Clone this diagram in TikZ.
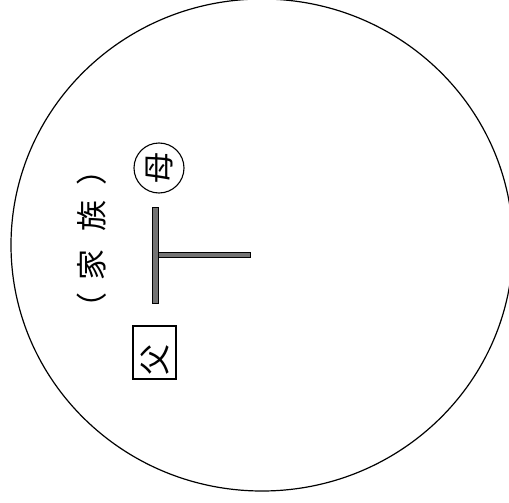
\documentclass[tikz,border=0pt]{standalone}
\usepackage{fontspec}
\newfontfamily\cjk{Noto Sans CJK JP}
\usetikzlibrary{shapes.geometric}
\begin{document}
\begin{tikzpicture}[x=1pt,y=-1pt,
  lbl/.style={font=\cjk\fontsize{31pt}{31pt}\selectfont, inner sep=0pt, rotate=90},
  bar/.style={fill=black!55, draw=black, line width=0.9pt}]
\useasboundingbox (0,0) rectangle (509,503);
\node[draw, ellipse, line width=1.2pt, minimum width=502pt, minimum height=492pt, inner sep=0pt] (frame) at (262,245) {};
% mother
\node[draw, circle, line width=1.1pt, minimum size=50pt, inner sep=0pt] (mo) at (159,168) {};
\node[lbl] (motxt) at (mo.center) {母};
% father
\node[draw, rectangle, line width=1.1pt, minimum width=43pt, minimum height=53pt, inner sep=0pt] (fa) at (154.5,352.5) {};
\node[lbl] (fatxt) at (155,360) {父};
% family label
\node[lbl] (fam) at (92,239) {（\hspace{12pt}家\hspace{18pt}族\hspace{15pt}）};
% T-shaped link
\coordinate (bartop) at (155,207);
\coordinate (barbot) at (155,303);
\coordinate (branch) at (250,254.5);
\draw[bar] ([xshift=-3pt]bartop) -- ([xshift=3pt]bartop) -- ([xshift=3pt,yshift=-2.5pt]bartop |- branch)
  -- ([yshift=-2.5pt]branch) -- ([yshift=2.5pt]branch) -- ([xshift=3pt,yshift=2.5pt]bartop |- branch)
  -- ([xshift=3pt]barbot) -- ([xshift=-3pt]barbot) -- cycle;
\end{tikzpicture}
\end{document}
